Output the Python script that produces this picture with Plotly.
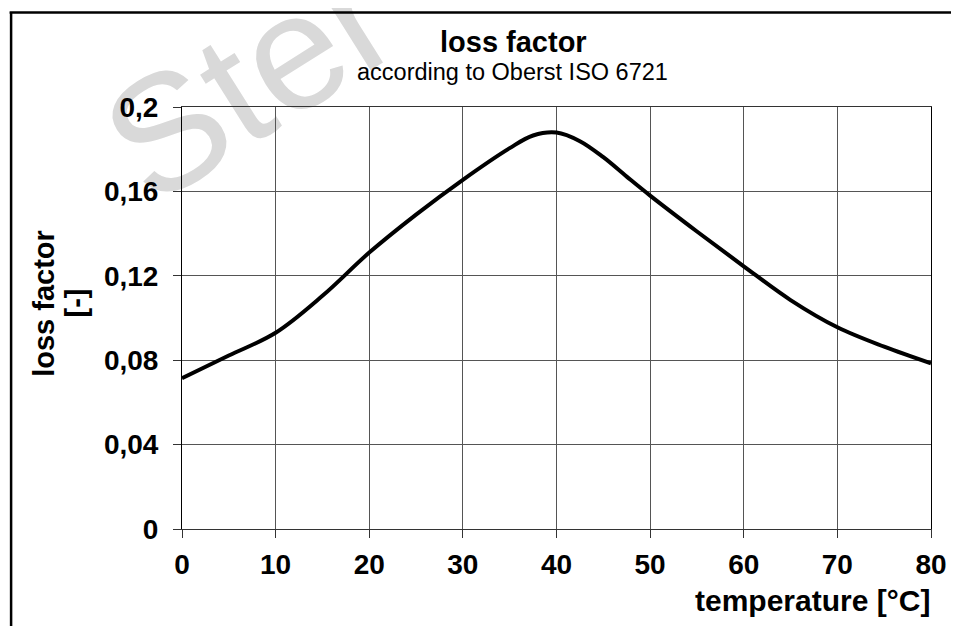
import math
import plotly.graph_objects as go

# data
temperature = [0, 5, 10, 15, 20, 25, 30, 35, 37.5, 40, 42.5, 45, 47.5, 50, 55, 60, 65, 70, 75, 80]
loss_factor = [0.0715, 0.0822, 0.093, 0.1105, 0.131, 0.149, 0.1655, 0.1805, 0.1865, 0.1879,
               0.1838, 0.1762, 0.167, 0.158, 0.141, 0.1245, 0.1085, 0.0956, 0.0864, 0.0785]
x_ticks = [0, 10, 20, 30, 40, 50, 60, 70, 80]
y_ticks = [0, 0.04, 0.08, 0.12, 0.16, 0.2]
y_tick_labels = ["0", "0,04", "0,08", "0,12", "0,16", "0,2"]

OFF = 8  # page body margin
W, H = 959 - OFF, 626 - OFF
L = 182 - OFF
R = W - (938 - OFF)
T = 107 - OFF
B = H - (529 - OFF)
PW, PH = W - L - R, H - T - B


def px(xp):
    return (xp - OFF - L) / PW


def py(yp):
    return (H - B - (yp - OFF)) / PH


FONT = "Arial, Liberation Sans, sans-serif"

fig = go.Figure()
fig.add_trace(go.Scatter(
    x=temperature, y=loss_factor, mode="lines",
    line=dict(color="black", width=4, shape="spline", smoothing=1.0),
    hoverinfo="skip", showlegend=False))

fig.update_layout(
    width=W, height=H,
    margin=dict(l=L, r=R, t=T, b=B),
    paper_bgcolor="white", plot_bgcolor="white",
    font=dict(family=FONT, color="black"),
    showlegend=False,
    xaxis=dict(range=[0, 80], tickvals=x_ticks, ticktext=[str(v) for v in x_ticks],
               showgrid=True, gridcolor="#555555", gridwidth=1,
               showline=True, linecolor="#333333", linewidth=1, mirror=True,
               ticks="outside", ticklen=8, tickcolor="#333333",
               tickfont=dict(size=28, family=FONT, color="black", weight="bold"),
               ticklabelstandoff=2, zeroline=False),
    yaxis=dict(range=[0, 0.2], tickvals=y_ticks, ticktext=y_tick_labels,
               showgrid=True, gridcolor="#555555", gridwidth=1,
               showline=True, linecolor="black", linewidth=1, mirror=True,
               ticks="outside", ticklen=8, tickcolor="#333333",
               tickfont=dict(size=28, family=FONT, color="black", weight="bold"),
               ticklabelstandoff=9, zeroline=False),
)

annotations = [
    dict(text="<b>loss factor</b>", x=px(517), y=py(41.5), xref="paper", yref="paper",
         showarrow=False, xanchor="center", yanchor="middle",
         font=dict(size=29, family=FONT, color="black")),
    dict(text="according to Oberst ISO 6721", x=px(515.5), y=py(72), xref="paper", yref="paper",
         showarrow=False, xanchor="center", yanchor="middle",
         font=dict(size=23.5, family=FONT, color="black")),
    dict(text="<b>loss factor</b>", x=px(42), y=py(303.5), xref="paper", yref="paper",
         showarrow=False, xanchor="center", yanchor="middle", textangle=-90,
         font=dict(size=29, family=FONT, color="black")),
    dict(text="<b>[-]</b>", x=px(74), y=py(303.5), xref="paper", yref="paper",
         showarrow=False, xanchor="center", yanchor="middle", textangle=-90,
         font=dict(size=29, family=FONT, color="black")),
    dict(text="<b>temperature [°C]</b>", x=px(939), y=py(600.5), xref="paper", yref="paper",
         showarrow=False, xanchor="right", yanchor="middle",
         font=dict(size=30, family=FONT, color="black")),
]
fig.update_layout(annotations=annotations)

# watermark: invisible line along the text baseline, with a label, drawn below the grid
cx, cy = 241, 66
ang = math.radians(32)
half = 60
wx0, wy0 = cx - half * math.cos(ang), cy + half * math.sin(ang)
wx1, wy1 = cx + half * math.cos(ang), cy - half * math.sin(ang)

fig.update_layout(shapes=[
    dict(type="line", xref="paper", yref="paper", layer="below",
         x0=px(wx0), y0=py(wy0), x1=px(wx1), y1=py(wy1),
         line=dict(color="rgba(0,0,0,0)", width=0),
         label=dict(text="Ster", textposition="middle",
                    xanchor="center", yanchor="middle", padding=0,
                    font=dict(size=165, family=FONT, color="#d9d9d9"))),
    dict(type="line", xref="paper", yref="paper", x0=px(9.5), x1=px(9.5), y0=py(12), y1=py(650),
         line=dict(color="black", width=2.5)),
    dict(type="line", xref="paper", yref="paper", x0=px(8), x1=px(980), y0=py(12.5), y1=py(12.5),
         line=dict(color="black", width=2.5)),
])

fig.write_html("out.html")
